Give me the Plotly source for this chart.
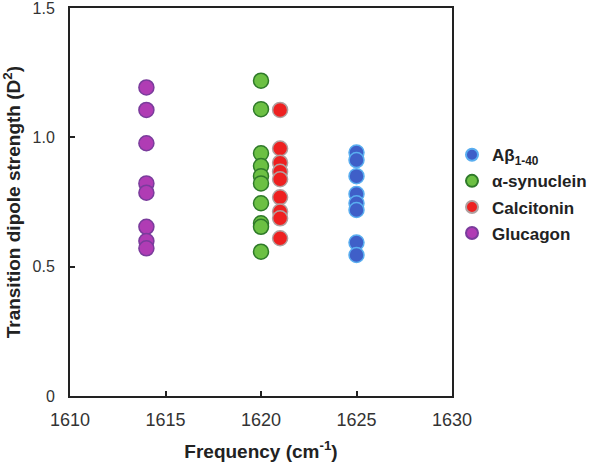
import plotly.graph_objects as go

# Data
abeta_x = [1625] * 8
abeta_y = [0.941, 0.912, 0.850, 0.781, 0.745, 0.719, 0.593, 0.545]

asyn_x = [1620] * 10
asyn_y = [1.219, 1.109, 0.938, 0.889, 0.850, 0.822, 0.745, 0.668, 0.654, 0.558]

calc_x = [1621] * 9
calc_y = [1.106, 0.957, 0.902, 0.867, 0.838, 0.768, 0.713, 0.687, 0.610]

gluc_x = [1614] * 8
gluc_y = [1.193, 1.106, 0.977, 0.822, 0.786, 0.654, 0.599, 0.571]

x_ticks = [1610, 1615, 1620, 1625, 1630]
y_ticks = [0, 0.5, 1.0, 1.5]
y_ticktext = ["0", "0.5", "1.0", "1.5"]

series = [
    ("Aβ<sub>1-40</sub>", abeta_x, abeta_y, "#3f5fc8", "#5aaef0"),
    ("α-synuclein", asyn_x, asyn_y, "#6cc043", "#2f7a2a"),
    ("Calcitonin", calc_x, calc_y, "#ee2020", "#b0a0a0"),
    ("Glucagon", gluc_x, gluc_y, "#b03cb4", "#7a3c9c"),
]

FONT = "Liberation Sans, Arial, sans-serif"

fig = go.Figure()
for i, (name, xs, ys, fill, edge) in enumerate(series):
    fig.add_trace(go.Scatter(
        x=xs, y=ys, mode="markers", name=name, legendgroup=f"g{i}",
        marker=dict(size=15, color=fill, line=dict(color=edge, width=1.5)),
    ))

fig.update_layout(
    width=600, height=463,
    margin=dict(l=70, r=145, t=8, b=67),
    paper_bgcolor="white", plot_bgcolor="white",
    font=dict(family=FONT, color="#333333"),
    showlegend=True,
    legend=dict(
        x=1.0, y=0.667, xanchor="left", yanchor="top",
        font=dict(size=17, family=FONT, color="#222222", weight="bold"),
        tracegroupgap=1, itemsizing="constant",
        bgcolor="rgba(0,0,0,0)",
    ),
    annotations=[dict(
        text="Transition dipole strength (D<sup>2</sup>)",
        xref="paper", yref="paper", x=-0.151, y=0.5,
        xanchor="center", yanchor="middle", textangle=-90, showarrow=False,
        font=dict(size=19, color="#222222", weight="bold", family=FONT),
    )],
)
fig.update_xaxes(
    range=[1610, 1630], tickvals=x_ticks, automargin=False,
    ticks="inside", ticklen=5, tickwidth=2, tickcolor="#222222",
    ticklabelstandoff=6, ticklabeloverflow="allow",
    showline=True, linecolor="#222222", linewidth=2, mirror=True,
    showgrid=False, zeroline=False,
    tickfont=dict(size=18, color="#333333"),
    title=dict(text="Frequency (cm<sup>-1</sup>)", standoff=16,
               font=dict(size=19, color="#222222", weight="bold")),
)
fig.update_yaxes(
    range=[0, 1.5], tickvals=y_ticks, ticktext=y_ticktext, automargin=False,
    ticks="inside", ticklen=5, tickwidth=2, tickcolor="#222222",
    ticklabelstandoff=10, ticklabeloverflow="allow",
    showline=True, linecolor="#222222", linewidth=2, mirror=True,
    showgrid=False, zeroline=False,
    tickfont=dict(size=16, color="#333333"),
)

fig.write_html("out.html", config={"displayModeBar": False},
               post_script="document.body.style.margin='0';")
